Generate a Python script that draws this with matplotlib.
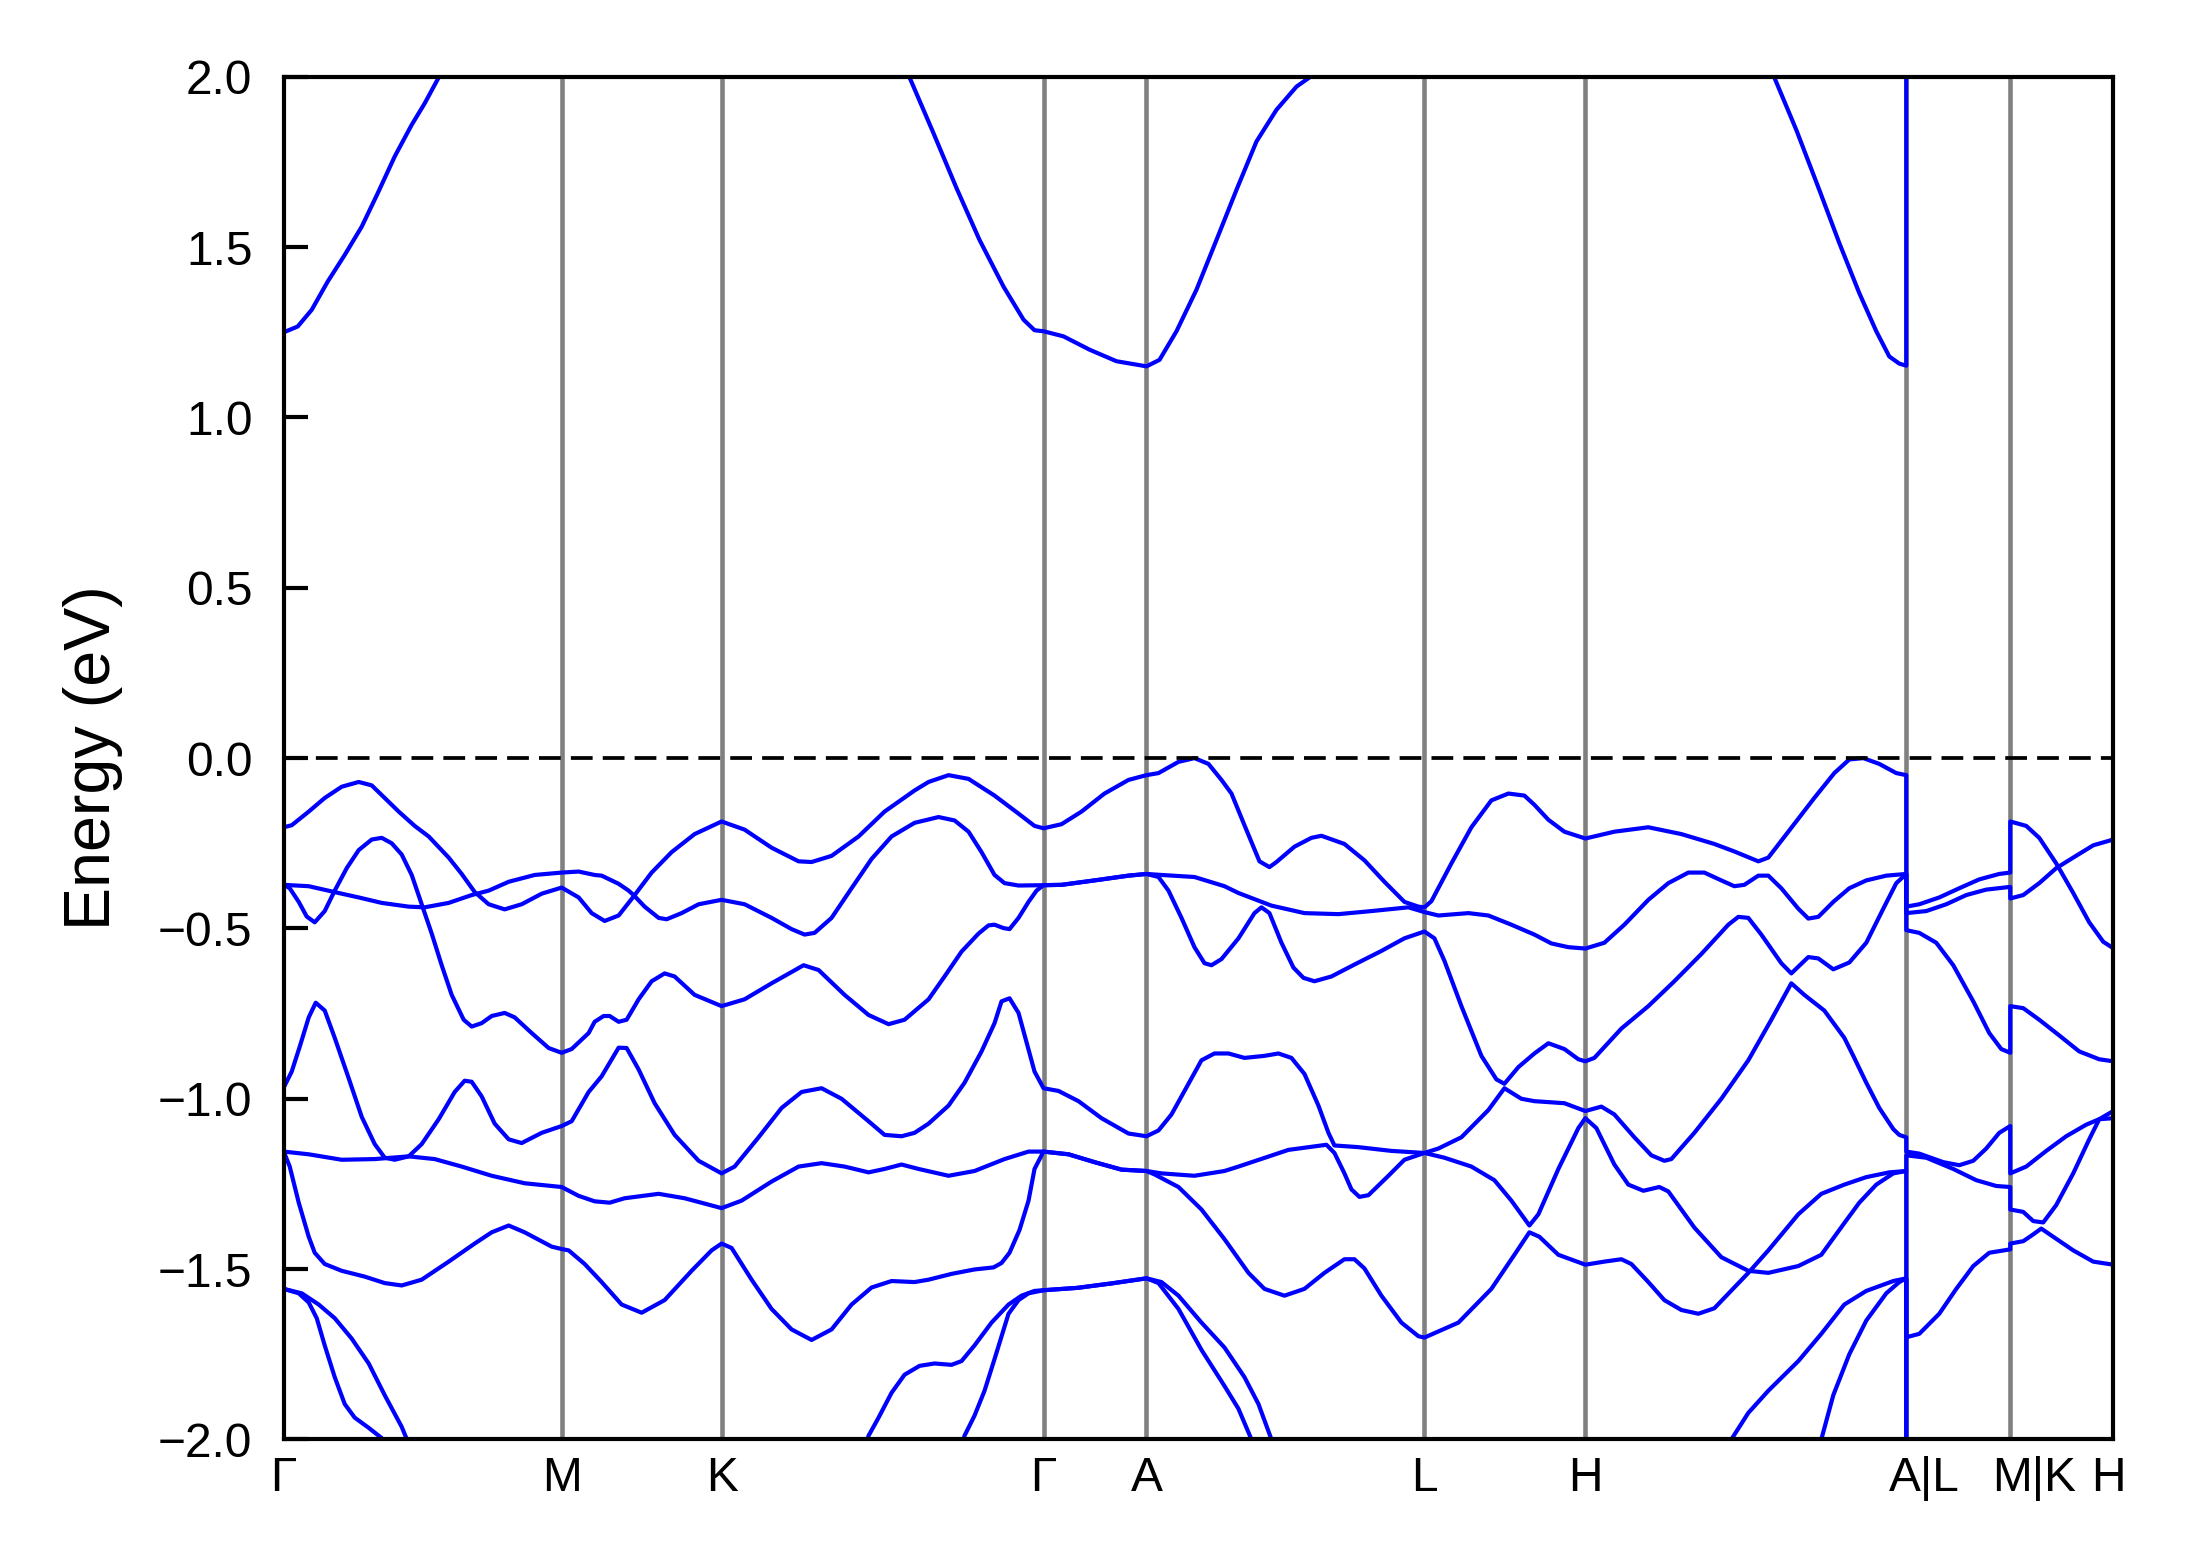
import numpy as np
import matplotlib
matplotlib.use("Agg")
import matplotlib.pyplot as plt
from matplotlib.transforms import ScaledTranslation

plt.rcParams['font.family'] = ['Liberation Sans', 'DejaVu Sans']
plt.rcParams['axes.unicode_minus'] = True

nan = np.nan

# high symmetry points along the k-path
kpt_labels = ['Γ', 'M', 'K', 'Γ', 'A', 'L', 'H', 'A|L', 'M|K', 'H']
kpt_pos = [0.000, 0.278, 0.438, 0.760, 0.863, 1.141, 1.302, 1.623, 1.727, 1.830]

# bands: (k, E - E_F in eV); nan = band outside the energy window
cb1 = [(0.000, 1.250), (0.014, 1.267), (0.028, 1.316), (0.044, 1.399), (0.061, 1.477),
       (0.078, 1.560), (0.094, 1.658), (0.111, 1.766), (0.128, 1.859), (0.141, 1.922),
       (0.155, 1.998), (0.157, 2.020), (nan, nan),
       (0.624, 2.020), (0.626, 1.998), (0.650, 1.834), (0.673, 1.673), (0.696, 1.521),
       (0.720, 1.384), (0.740, 1.287), (0.751, 1.256), (0.760, 1.253), (0.780, 1.238),
       (0.806, 1.199), (0.833, 1.165), (0.863, 1.150), (0.876, 1.169), (0.893, 1.253),
       (0.913, 1.375), (0.933, 1.521), (0.953, 1.668), (0.973, 1.810), (0.993, 1.903),
       (1.013, 1.971), (1.026, 1.998), (1.029, 2.020), (nan, nan),
       (1.489, 2.020), (1.491, 1.998), (1.513, 1.844), (1.536, 1.668), (1.556, 1.512),
       (1.576, 1.365), (1.593, 1.253), (1.606, 1.179), (1.616, 1.158), (1.623, 1.152),
       (1.623, 2.100)]

vb1 = [(0.000, -0.203), (0.008, -0.197), (0.025, -0.157), (0.041, -0.117), (0.058, -0.084),
       (0.075, -0.070), (0.088, -0.080), (0.101, -0.117), (0.115, -0.157), (0.131, -0.199),
       (0.145, -0.230), (0.165, -0.292), (0.178, -0.340), (0.191, -0.393), (0.205, -0.429),
       (0.221, -0.444), (0.238, -0.429), (0.258, -0.398), (0.278, -0.380), (0.295, -0.409),
       (0.308, -0.455), (0.321, -0.478), (0.335, -0.462), (0.350, -0.406), (0.368, -0.336),
       (0.388, -0.276), (0.411, -0.223), (0.438, -0.186), (0.461, -0.210), (0.488, -0.263),
       (0.515, -0.303), (0.528, -0.305), (0.548, -0.287), (0.575, -0.230), (0.601, -0.157),
       (0.631, -0.095), (0.645, -0.070), (0.665, -0.050), (0.685, -0.061), (0.711, -0.110),
       (0.735, -0.163), (0.751, -0.199), (0.760, -0.206), (0.778, -0.194), (0.798, -0.157),
       (0.821, -0.104), (0.845, -0.064), (0.863, -0.050), (0.875, -0.044), (0.895, -0.011),
       (0.911, 0.000), (0.925, -0.017), (0.938, -0.064), (0.948, -0.104), (0.961, -0.197),
       (0.976, -0.303), (0.986, -0.320), (0.993, -0.305), (1.011, -0.260), (1.028, -0.234),
       (1.038, -0.228), (1.061, -0.252), (1.081, -0.300), (1.101, -0.363), (1.121, -0.422),
       (1.135, -0.436), (1.141, -0.438), (1.148, -0.420), (1.168, -0.309), (1.188, -0.203),
       (1.208, -0.124), (1.225, -0.104), (1.241, -0.110), (1.251, -0.137), (1.265, -0.181),
       (1.281, -0.216), (1.302, -0.236), (1.331, -0.216), (1.365, -0.203), (1.398, -0.223),
       (1.431, -0.252), (1.451, -0.274), (1.475, -0.303), (1.485, -0.292), (1.505, -0.216),
       (1.531, -0.117), (1.551, -0.044), (1.566, -0.004), (1.580, 0.000), (1.596, -0.017),
       (1.613, -0.044), (1.623, -0.050), (1.623, -0.436), (1.636, -0.429), (1.656, -0.409),
       (1.676, -0.382), (1.696, -0.356), (1.716, -0.340), (1.727, -0.336), (1.727, -0.186),
       (1.743, -0.199), (1.756, -0.234), (1.773, -0.309), (1.790, -0.396), (1.806, -0.482),
       (1.820, -0.539), (1.830, -0.558)]

vb2 = [(0.000, -0.372), (0.025, -0.376), (0.055, -0.396), (0.075, -0.409), (0.098, -0.425),
       (0.125, -0.436), (0.141, -0.438), (0.165, -0.425), (0.188, -0.402), (0.205, -0.389),
       (0.225, -0.363), (0.251, -0.343), (0.278, -0.336), (0.295, -0.333), (0.311, -0.343),
       (0.318, -0.345), (0.335, -0.369), (0.345, -0.389), (0.350, -0.402), (0.361, -0.436),
       (0.375, -0.469), (0.383, -0.473), (0.398, -0.455), (0.415, -0.429), (0.438, -0.416),
       (0.461, -0.429), (0.488, -0.469), (0.508, -0.502), (0.521, -0.518), (0.531, -0.513),
       (0.548, -0.469), (0.568, -0.382), (0.588, -0.296), (0.608, -0.230), (0.631, -0.190),
       (0.655, -0.173), (0.671, -0.183), (0.685, -0.216), (0.698, -0.276), (0.711, -0.343),
       (0.721, -0.367), (0.735, -0.374), (0.760, -0.373), (0.778, -0.372), (0.811, -0.359),
       (0.845, -0.345), (0.863, -0.340), (0.878, -0.343), (0.911, -0.349), (0.941, -0.376),
       (0.955, -0.396), (0.988, -0.433), (1.021, -0.455), (1.055, -0.458), (1.088, -0.449),
       (1.125, -0.438), (1.141, -0.452), (1.155, -0.462), (1.185, -0.455), (1.205, -0.462),
       (1.228, -0.489), (1.251, -0.518), (1.268, -0.544), (1.285, -0.555), (1.302, -0.559),
       (1.321, -0.542), (1.341, -0.489), (1.365, -0.416), (1.385, -0.367), (1.405, -0.336),
       (1.421, -0.336), (1.438, -0.359), (1.451, -0.376), (1.461, -0.372), (1.475, -0.345),
       (1.485, -0.345), (1.498, -0.382), (1.515, -0.442), (1.525, -0.471), (1.535, -0.466),
       (1.550, -0.422), (1.566, -0.382), (1.583, -0.359), (1.603, -0.345), (1.623, -0.340),
       (1.623, -0.455), (1.643, -0.449), (1.663, -0.429), (1.683, -0.402), (1.703, -0.386),
       (1.727, -0.378), (1.727, -0.412), (1.740, -0.402), (1.756, -0.367), (1.773, -0.323),
       (1.790, -0.292), (1.810, -0.256), (1.830, -0.239)]

vb3 = [(0.000, -0.372), (0.006, -0.382), (0.015, -0.422), (0.023, -0.465), (0.031, -0.482),
       (0.041, -0.449), (0.051, -0.389), (0.063, -0.323), (0.075, -0.270), (0.088, -0.239),
       (0.098, -0.234), (0.108, -0.250), (0.118, -0.283), (0.128, -0.343), (0.138, -0.429),
       (0.148, -0.515), (0.158, -0.608), (0.168, -0.695), (0.180, -0.768), (0.188, -0.788),
       (0.198, -0.778), (0.208, -0.757), (0.221, -0.748), (0.231, -0.761), (0.248, -0.807),
       (0.265, -0.851), (0.278, -0.865), (0.288, -0.854), (0.305, -0.807), (0.311, -0.774),
       (0.320, -0.757), (0.326, -0.757), (0.335, -0.774), (0.343, -0.768), (0.355, -0.708),
       (0.368, -0.655), (0.381, -0.632), (0.391, -0.641), (0.411, -0.695), (0.438, -0.728),
       (0.461, -0.708), (0.488, -0.661), (0.520, -0.608), (0.535, -0.622), (0.561, -0.695),
       (0.585, -0.754), (0.605, -0.781), (0.621, -0.768), (0.645, -0.708), (0.661, -0.641),
       (0.678, -0.568), (0.695, -0.515), (0.705, -0.491), (0.711, -0.489), (0.720, -0.499),
       (0.726, -0.502), (0.735, -0.469), (0.745, -0.422), (0.753, -0.389), (0.760, -0.373),
       (0.778, -0.372), (0.811, -0.359), (0.845, -0.345), (0.863, -0.340), (0.875, -0.349),
       (0.885, -0.389), (0.898, -0.469), (0.911, -0.555), (0.921, -0.602), (0.928, -0.608),
       (0.938, -0.590), (0.955, -0.529), (0.971, -0.455), (0.978, -0.438), (0.986, -0.455),
       (0.998, -0.542), (1.010, -0.615), (1.020, -0.645), (1.031, -0.655), (1.048, -0.641),
       (1.071, -0.606), (1.098, -0.566), (1.121, -0.529), (1.141, -0.509), (1.151, -0.529),
       (1.161, -0.595), (1.178, -0.728), (1.198, -0.874), (1.213, -0.943), (1.221, -0.956),
       (1.235, -0.907), (1.251, -0.867), (1.265, -0.837), (1.281, -0.854), (1.295, -0.884),
       (1.302, -0.890), (1.311, -0.880), (1.338, -0.794), (1.365, -0.728), (1.391, -0.655),
       (1.418, -0.575), (1.445, -0.489), (1.455, -0.466), (1.465, -0.469), (1.478, -0.518),
       (1.498, -0.602), (1.508, -0.632), (1.525, -0.584), (1.535, -0.588), (1.550, -0.620),
       (1.566, -0.600), (1.583, -0.542), (1.600, -0.442), (1.613, -0.367), (1.623, -0.340),
       (1.623, -0.505), (1.636, -0.513), (1.653, -0.542), (1.670, -0.608), (1.690, -0.714),
       (1.706, -0.807), (1.718, -0.854), (1.727, -0.865), (1.727, -0.728), (1.740, -0.734),
       (1.756, -0.768), (1.776, -0.814), (1.796, -0.861), (1.816, -0.884), (1.830, -0.890)]

vb4 = [(0.000, -0.967), (0.008, -0.920), (0.016, -0.847), (0.025, -0.761), (0.032, -0.718),
       (0.041, -0.741), (0.051, -0.821), (0.065, -0.940), (0.078, -1.053), (0.091, -1.133),
       (0.101, -1.173), (0.111, -1.179), (0.125, -1.169), (0.138, -1.133), (0.155, -1.060),
       (0.171, -0.980), (0.181, -0.947), (0.188, -0.950), (0.198, -0.993), (0.211, -1.073),
       (0.225, -1.119), (0.238, -1.130), (0.258, -1.100), (0.278, -1.080), (0.288, -1.066),
       (0.305, -0.980), (0.318, -0.934), (0.335, -0.850), (0.343, -0.851), (0.355, -0.914),
       (0.371, -1.013), (0.391, -1.106), (0.415, -1.182), (0.438, -1.219), (0.451, -1.199),
       (0.475, -1.113), (0.498, -1.027), (0.518, -0.980), (0.538, -0.969), (0.558, -1.000),
       (0.585, -1.066), (0.601, -1.106), (0.618, -1.110), (0.631, -1.100), (0.645, -1.073),
       (0.665, -1.020), (0.681, -0.953), (0.698, -0.861), (0.711, -0.778), (0.718, -0.714),
       (0.726, -0.705), (0.735, -0.748), (0.743, -0.834), (0.751, -0.920), (0.760, -0.969),
       (0.775, -0.977), (0.795, -1.007), (0.818, -1.057), (0.845, -1.102), (0.863, -1.110),
       (0.875, -1.093), (0.888, -1.046), (0.905, -0.956), (0.918, -0.887), (0.931, -0.867),
       (0.945, -0.867), (0.961, -0.880), (0.981, -0.874), (0.995, -0.867), (1.008, -0.880),
       (1.021, -0.927), (1.035, -1.020), (1.045, -1.100), (1.051, -1.137), (1.075, -1.142),
       (1.108, -1.153), (1.141, -1.159), (1.155, -1.146), (1.178, -1.113), (1.205, -1.033),
       (1.221, -0.969), (1.238, -1.000), (1.251, -1.007), (1.281, -1.013), (1.302, -1.036),
       (1.318, -1.023), (1.331, -1.046), (1.351, -1.113), (1.368, -1.166), (1.381, -1.182),
       (1.388, -1.177), (1.411, -1.100), (1.438, -1.000), (1.465, -0.887), (1.488, -0.768),
       (1.508, -0.661), (1.521, -0.695), (1.541, -0.741), (1.561, -0.821), (1.570, -0.874),
       (1.583, -0.953), (1.596, -1.027), (1.610, -1.089), (1.616, -1.106), (1.623, -1.113),
       (1.623, -1.155), (1.636, -1.161), (1.660, -1.186), (1.676, -1.195), (1.690, -1.182),
       (1.703, -1.146), (1.716, -1.100), (1.727, -1.080), (1.727, -1.219), (1.743, -1.199),
       (1.763, -1.153), (1.783, -1.110), (1.803, -1.076), (1.816, -1.060), (1.830, -1.057)]

vb5 = [(0.000, -1.155), (0.025, -1.163), (0.058, -1.179), (0.091, -1.177), (0.125, -1.169),
       (0.151, -1.177), (0.178, -1.199), (0.208, -1.226), (0.241, -1.248), (0.278, -1.259),
       (0.295, -1.285), (0.311, -1.301), (0.326, -1.305), (0.341, -1.292), (0.375, -1.279),
       (0.401, -1.292), (0.438, -1.321), (0.458, -1.299), (0.488, -1.243), (0.515, -1.199),
       (0.538, -1.189), (0.561, -1.199), (0.585, -1.216), (0.601, -1.206), (0.618, -1.193),
       (0.635, -1.206), (0.665, -1.226), (0.691, -1.212), (0.721, -1.177), (0.745, -1.155),
       (0.760, -1.155), (0.785, -1.163), (0.811, -1.186), (0.838, -1.208), (0.863, -1.212),
       (0.878, -1.219), (0.911, -1.226), (0.941, -1.212), (0.955, -1.199), (1.005, -1.150),
       (1.043, -1.135), (1.051, -1.159), (1.061, -1.219), (1.068, -1.266), (1.076, -1.288),
       (1.085, -1.283), (1.105, -1.226), (1.121, -1.179), (1.141, -1.159), (1.161, -1.173),
       (1.188, -1.199), (1.211, -1.239), (1.228, -1.299), (1.246, -1.372), (1.255, -1.339),
       (1.275, -1.206), (1.295, -1.086), (1.302, -1.057), (1.313, -1.086), (1.331, -1.193),
       (1.345, -1.252), (1.360, -1.270), (1.376, -1.259), (1.385, -1.272), (1.411, -1.378),
       (1.438, -1.465), (1.465, -1.505), (1.485, -1.511), (1.515, -1.491), (1.538, -1.458),
       (1.561, -1.365), (1.576, -1.305), (1.593, -1.252), (1.610, -1.219), (1.623, -1.212),
       (1.623, -1.166), (1.643, -1.173), (1.670, -1.206), (1.693, -1.239), (1.713, -1.256),
       (1.727, -1.259), (1.727, -1.325), (1.740, -1.332), (1.750, -1.359), (1.760, -1.363),
       (1.773, -1.312), (1.790, -1.219), (1.806, -1.119), (1.816, -1.060), (1.830, -1.036)]

vb6 = [(0.000, -1.155), (0.006, -1.199), (0.015, -1.305), (0.025, -1.405), (0.031, -1.452),
       (0.041, -1.485), (0.058, -1.505), (0.081, -1.522), (0.101, -1.541), (0.118, -1.548),
       (0.138, -1.531), (0.165, -1.478), (0.191, -1.425), (0.208, -1.392), (0.225, -1.372),
       (0.241, -1.392), (0.268, -1.434), (0.278, -1.441), (0.285, -1.445), (0.301, -1.485),
       (0.318, -1.538), (0.338, -1.604), (0.358, -1.628), (0.381, -1.591), (0.408, -1.505),
       (0.428, -1.445), (0.438, -1.425), (0.448, -1.438), (0.468, -1.531), (0.488, -1.617),
       (0.508, -1.677), (0.528, -1.708), (0.548, -1.677), (0.568, -1.604), (0.588, -1.554),
       (0.608, -1.535), (0.631, -1.538), (0.645, -1.531), (0.668, -1.514), (0.691, -1.501),
       (0.710, -1.495), (0.718, -1.482), (0.726, -1.452), (0.736, -1.385), (0.745, -1.299),
       (0.751, -1.206), (0.760, -1.155), (0.785, -1.163), (0.811, -1.186), (0.838, -1.208),
       (0.863, -1.212), (0.871, -1.222), (0.895, -1.259), (0.918, -1.325), (0.941, -1.412),
       (0.965, -1.511), (0.981, -1.558), (1.001, -1.578), (1.021, -1.558), (1.041, -1.511),
       (1.061, -1.471), (1.071, -1.471), (1.081, -1.498), (1.098, -1.578), (1.118, -1.657),
       (1.135, -1.697), (1.141, -1.701), (1.175, -1.657), (1.208, -1.558), (1.231, -1.458),
       (1.246, -1.392), (1.256, -1.405), (1.275, -1.458), (1.302, -1.487), (1.321, -1.478),
       (1.338, -1.471), (1.348, -1.485), (1.365, -1.538), (1.381, -1.591), (1.398, -1.620),
       (1.415, -1.631), (1.431, -1.615), (1.465, -1.511), (1.485, -1.445), (1.515, -1.339),
       (1.538, -1.279), (1.561, -1.252), (1.583, -1.230), (1.606, -1.216), (1.623, -1.212),
       (1.623, -1.700), (1.636, -1.690), (1.656, -1.631), (1.673, -1.558), (1.690, -1.491),
       (1.706, -1.452), (1.727, -1.442), (1.727, -1.425), (1.740, -1.418), (1.750, -1.398),
       (1.758, -1.381), (1.770, -1.405), (1.790, -1.445), (1.810, -1.478), (1.830, -1.487)]

vb7 = [(0.000, -1.558), (0.018, -1.571), (0.035, -1.604), (0.051, -1.644), (0.068, -1.704),
       (0.085, -1.777), (0.101, -1.870), (0.118, -1.963), (0.126, -2.020), (nan, nan),
       (0.582, -2.020), (0.585, -1.989), (0.595, -1.936), (0.608, -1.863), (0.621, -1.810),
       (0.636, -1.784), (0.651, -1.777), (0.668, -1.781), (0.678, -1.770), (0.691, -1.724),
       (0.708, -1.657), (0.725, -1.604), (0.738, -1.578), (0.751, -1.564), (0.760, -1.562),
       (0.794, -1.555), (0.828, -1.542), (0.863, -1.527), (0.878, -1.538), (0.895, -1.578),
       (0.918, -1.657), (0.941, -1.730), (0.961, -1.817), (0.975, -1.896), (0.988, -2.000),
       (0.990, -2.020), (nan, nan),
       (1.445, -2.020), (1.448, -2.000), (1.465, -1.922), (1.485, -1.857), (1.515, -1.770),
       (1.538, -1.690), (1.561, -1.604), (1.583, -1.564), (1.610, -1.535), (1.623, -1.527),
       (1.623, -2.300)]

vb8 = [(0.000, -1.558), (0.015, -1.571), (0.025, -1.598), (0.033, -1.644), (0.041, -1.724),
       (0.051, -1.817), (0.061, -1.896), (0.071, -1.936), (0.085, -1.966), (0.098, -1.996),
       (0.104, -2.020), (nan, nan),
       (0.678, -2.020), (0.681, -1.989), (0.691, -1.930), (0.701, -1.857), (0.711, -1.764),
       (0.725, -1.631), (0.735, -1.591), (0.745, -1.571), (0.760, -1.562), (0.794, -1.555),
       (0.828, -1.542), (0.863, -1.527), (0.875, -1.541), (0.895, -1.617), (0.918, -1.737),
       (0.941, -1.843), (0.955, -1.910), (0.968, -2.000), (0.970, -2.020), (nan, nan),
       (1.536, -2.020), (1.538, -2.000), (1.550, -1.870), (1.566, -1.750), (1.583, -1.651),
       (1.603, -1.571), (1.616, -1.538), (1.623, -1.527), (1.623, -2.300)]

bands = [cb1, vb1, vb2, vb3, vb4, vb5, vb6, vb7, vb8]

# label nudges (points) seen in the original for the broken-path labels
label_shift = {7: 4.3, 8: 5.8, 9: -1.2}


fig = plt.figure(figsize=(2191 / 300, 1567 / 300), dpi=300)
ax = fig.add_axes([0.1295, 0.0814, 0.8350, 0.8696])

for kp in kpt_pos[1:-1]:
    ax.axvline(kp, color='gray', lw=1.1, zorder=1)

for b in bands:
    arr = np.array(b, dtype=float)
    ax.plot(arr[:, 0], arr[:, 1], color='blue', lw=1.0, zorder=2)

ax.axhline(0.0, color='black', lw=0.9, linestyle=(0, (5.8, 2.7)), zorder=3)

ax.set_xlim(kpt_pos[0], kpt_pos[-1])
ax.set_ylim(-2.0, 2.0)
ax.set_yticks(np.arange(-2.0, 2.01, 0.5))
ax.set_xticks(kpt_pos)
ax.set_xticklabels(kpt_labels)

ax.tick_params(axis='y', direction='in', length=5.8, width=1.0, labelsize=11.5, pad=7.5)
ax.tick_params(axis='x', length=0, labelsize=11.5, pad=4)
for sp in ax.spines.values():
    sp.set_linewidth(1.0)

ax.set_ylabel('Energy (eV)', fontsize=15.5)
ax.yaxis.set_label_coords(-0.088, 0.5)

for i, lab in enumerate(ax.get_xticklabels()):
    if i in label_shift:
        off = ScaledTranslation(label_shift[i] / 72, 0, fig.dpi_scale_trans)
        lab.set_transform(lab.get_transform() + off)

fig.savefig('out.png', dpi=300)
